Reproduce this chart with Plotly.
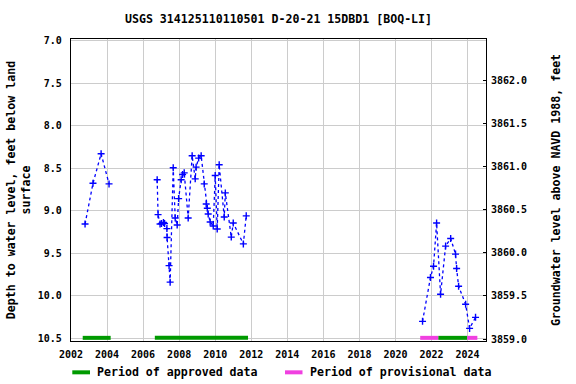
import plotly.graph_objects as go

# Water-level observations (decimal year, depth below land surface in feet); None separates gaps
years = [2002.78, 2003.22, 2003.67, 2004.11, None,
         2006.78, 2006.83, 2006.94, 2007.02, 2007.13, 2007.19, 2007.32, 2007.33, 2007.44, 2007.50,
         2007.67, 2007.78, 2007.89, 2007.97, 2008.11, 2008.19, 2008.28, 2008.50, 2008.72, 2008.89,
         2008.94, 2009.08, 2009.22, 2009.39, 2009.50, 2009.56, 2009.61, 2009.72, 2009.89, 2010.00,
         2010.11, 2010.22, 2010.50, 2010.56, 2010.89, 2011.00, 2011.56, 2011.72, None,
         2021.50, 2021.94, 2022.11, 2022.28, 2022.50, 2022.78, 2023.06, 2023.33, 2023.39, 2023.50,
         2023.89, 2024.11, 2024.44]
depths = [9.156, 8.677, 8.33, 8.684, None,
          8.636, 9.046, 9.156, 9.15, 9.137, 9.15, 9.21, 9.314, 9.645, 9.84,
          8.495, 9.085, 9.168, 8.857, 8.636, 8.574, 8.554, 9.085, 8.353, 8.625,
          8.487, 8.381, 8.353, 8.684, 8.92, 8.971, 9.038, 9.132, 9.18, 8.586,
          9.215, 8.459, 9.073, 8.79, 9.31, 9.144, 9.39, 9.06, None,
          10.301, 9.786, 9.652, 9.144, 9.982, 9.416, 9.326, 9.51, 9.68, 9.888,
          10.1, 10.384, 10.254]

# Data-approval periods (start, end) in decimal years
approved_periods = [(2002.65, 2004.20), (2006.65, 2011.82), (2022.37, 2023.98)]
provisional_periods = [(2021.37, 2022.37), (2023.98, 2024.54)]
period_depth = 10.495

x_ticks = [2002, 2004, 2006, 2008, 2010, 2012, 2014, 2016, 2018, 2020, 2022, 2024]
y_ticks = [7.0, 7.5, 8.0, 8.5, 9.0, 9.5, 10.0, 10.5]
y2_ticks = [3859.0, 3859.5, 3860.0, 3860.5, 3861.0, 3861.5, 3862.0]

title = "USGS 314125110110501 D-20-21 15DBD1 [BOQ-LI]"
left_title = "Depth to water level, feet below land<br>surface"
right_title = "Groundwater level above NAVD 1988, feet"
legend_labels = ["Period of approved data", "Period of provisional data"]

GREEN = "#009a00"
MAGENTA = "#f040e0"
FONT = "DejaVu Sans Mono"

fig = go.Figure()

fig.add_trace(go.Scatter(
    x=years, y=depths, mode="lines+markers", connectgaps=False,
    line=dict(color="#0000ff", width=1.3, dash="dot"),
    marker=dict(symbol="cross-thin", size=5, line=dict(color="#0000ff", width=1.4)),
    showlegend=False, hoverinfo="x+y"))

for (a, b) in approved_periods:
    fig.add_trace(go.Scatter(x=[a, b], y=[period_depth, period_depth], mode="lines",
                             line=dict(color=GREEN, width=4), showlegend=False))
for (a, b) in provisional_periods:
    fig.add_trace(go.Scatter(x=[a, b], y=[period_depth, period_depth], mode="lines",
                             line=dict(color=MAGENTA, width=4), showlegend=False))

# invisible trace to activate the right axis
fig.add_trace(go.Scatter(x=[None], y=[None], yaxis="y2", showlegend=False))

W, H = 576, 384
L, R, T, B = 71, 486, 39.3, 341
pw, ph = R - L, B - T

def px_x(px):
    return (px - L) / pw

def px_y(py):
    return (B - py) / ph

# Manual legend
leg_y = 372.3
items = [(72.3, 90, 95, GREEN, legend_labels[0]), (285, 302.5, 307.5, MAGENTA, legend_labels[1])]
for x0, x1, tx, col, lab in items:
    fig.add_shape(type="line", xref="paper", yref="paper",
                  x0=px_x(x0), x1=px_x(x1), y0=px_y(leg_y), y1=px_y(leg_y),
                  line=dict(color=col, width=4))
    fig.add_annotation(text=lab, xref="paper", yref="paper", x=px_x(tx), y=px_y(leg_y),
                       xanchor="left", yanchor="middle", showarrow=False,
                       font=dict(family=FONT, size=11.6, color="black", weight="bold"))

fig.update_layout(
    width=W, height=H,
    margin=dict(l=L, r=W - R, t=T, b=H - B, pad=0, autoexpand=False),
    paper_bgcolor="white", plot_bgcolor="white",
    font=dict(family=FONT, size=10, color="black", weight="bold"),
    title=dict(text=title, x=(278.5) / W, xanchor="center", y=1 - 19 / H, yanchor="middle",
               font=dict(family=FONT, size=11.6, color="black", weight="bold")),
    showlegend=False,
    xaxis=dict(range=[2002, 2025.02], tickvals=x_ticks, ticktext=[str(v) for v in x_ticks],
               automargin=False,
               showgrid=True, gridcolor="#cccccc", gridwidth=1, zeroline=False,
               showline=True, linecolor="black", linewidth=1.3, mirror=True,
               ticks="", ticklabelstandoff=4,
               tickfont=dict(family=FONT, size=10, weight="bold")),
    yaxis=dict(range=[10.532, 6.98], tickvals=y_ticks, ticktext=[f"{v:.1f}" for v in y_ticks],
               automargin=False,
               showgrid=True, gridcolor="#cccccc", gridwidth=1, zeroline=False,
               showline=True, linecolor="black", linewidth=1.3, mirror=True, ticks="",
               ticklabelstandoff=6,
               tickfont=dict(family=FONT, size=10, weight="bold"),
               title=dict(text=left_title, standoff=4,
                          font=dict(family=FONT, size=11.6, weight="bold"))),
    yaxis2=dict(range=[3858.977, 3862.485], overlaying="y", side="right",
                automargin=False,
                tickvals=y2_ticks, ticktext=[f"{v:.1f}" for v in y2_ticks],
                showgrid=False, zeroline=False, ticks="inside", ticklen=3, tickcolor="black",
                ticklabelstandoff=4,
                tickfont=dict(family=FONT, size=10, weight="bold"),
                title=dict(text=right_title, standoff=25,
                           font=dict(family=FONT, size=11.6, weight="bold"))),
)

fig.write_html("out.html")
